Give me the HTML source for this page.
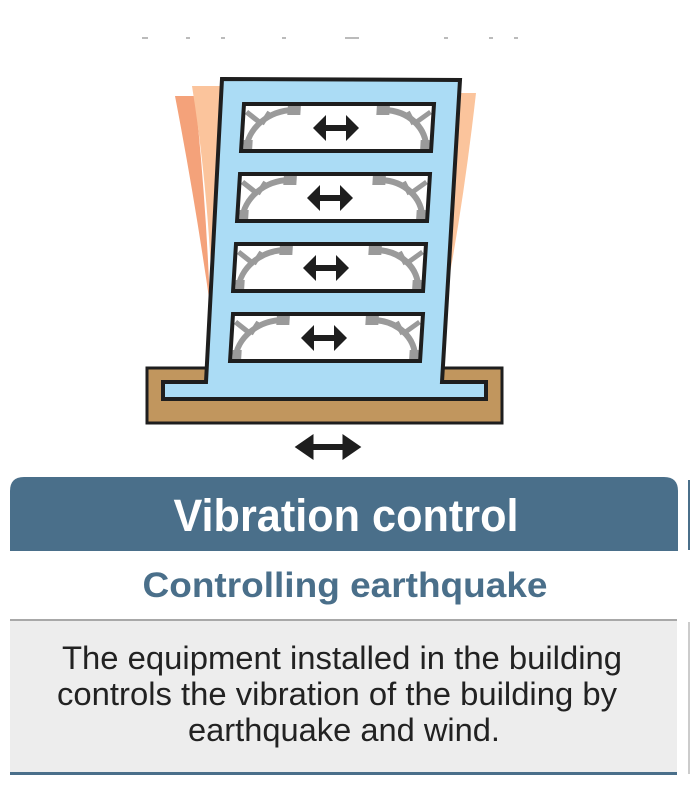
<!DOCTYPE html>
<html><head><meta charset="utf-8"><style>
html,body{margin:0;padding:0;background:#fff;width:690px;height:786px;overflow:hidden}
svg{display:block}
text{font-family:"Liberation Sans",sans-serif}
</style></head><body>
<svg width="690" height="786" viewBox="0 0 690 786" xmlns="http://www.w3.org/2000/svg">
<defs>
<g id="arr">
<polygon points="-23,0 -10,-13 -10,-3 10,-3 10,-13 23,0 10,13 10,3 -10,3 -10,13" fill="#1e1e1e"/>
</g>
<g id="win">
<rect x="0" y="0" width="190" height="47" fill="#fff"/>
<path d="M50,6 A46,40 0 0 0 5,45" fill="none" stroke="#9a9a9a" stroke-width="6"/>
<path d="M140,6 A46,40 0 0 1 185,45" fill="none" stroke="#9a9a9a" stroke-width="6"/>
<rect x="44" y="2" width="13" height="9" fill="#9a9a9a"/>
<rect x="133" y="2" width="13" height="9" fill="#9a9a9a"/>
<rect x="2" y="36" width="9" height="10" fill="#9a9a9a"/>
<rect x="179" y="36" width="9" height="10" fill="#9a9a9a"/>
<path d="M3,8 L19,20 M19,20 L26,8" stroke="#9a9a9a" stroke-width="5" fill="none"/>
<path d="M187,8 L171,20 M171,20 L164,8" stroke="#9a9a9a" stroke-width="5" fill="none"/>
<rect x="0" y="0" width="190" height="47" fill="none" stroke="#1e1e1e" stroke-width="4"/>
</g>
</defs>
<g fill="#bbb">
<rect x="142" y="37" width="6" height="2"/><rect x="186" y="37" width="4" height="2"/><rect x="221" y="37" width="4" height="2"/><rect x="282" y="37" width="4" height="2"/><rect x="345" y="37" width="14" height="2"/><rect x="444" y="37" width="4" height="2"/><rect x="489" y="37" width="4" height="2"/><rect x="514" y="37" width="4" height="2"/>
</g>
<path d="M175,96 L195,96 Q206,200 210,305 Q195,200 175,96 Z" fill="#f4a27a"/>
<path d="M192,86 L222,86 L212,290 Q207,180 192,86 Z" fill="#fbc49c"/>
<path d="M458,93 L476,93 Q464,200 446,295 L452,93 Z" fill="#fbc49c"/>
<rect x="147" y="368" width="355" height="55" fill="#c1965e" stroke="#1e1e1e" stroke-width="3"/>
<path d="M222,79 L460,80 L442,382 L486,382 L486,399 L163,399 L163,382 L206,382 Z" fill="#abdcf5" stroke="#1e1e1e" stroke-width="4"/>
<g transform="translate(244,104) skewX(-3.6)"><use href="#win"/></g>
<g transform="translate(240,174) skewX(-3.6)"><use href="#win"/></g>
<g transform="translate(236,244) skewX(-3.6)"><use href="#win"/></g>
<g transform="translate(233,314) skewX(-3.6)"><use href="#win"/></g>
<use href="#arr" x="336" y="128"/>
<use href="#arr" x="330" y="198"/>
<use href="#arr" x="326" y="268"/>
<use href="#arr" x="324" y="338"/>
<g transform="translate(328,447) scale(1.45,1.0)"><use href="#arr"/></g>
<path d="M10,551 L10,491 Q10,477 24,477 L664,477 Q678,477 678,491 L678,551 Z" fill="#4a6f8a"/>
<rect x="688" y="480" width="2" height="70" fill="#4a6f8a"/>
<text x="346" y="531" font-size="45" font-weight="bold" fill="#fff" text-anchor="middle" textLength="345" lengthAdjust="spacingAndGlyphs">Vibration control</text>
<text x="345" y="597" font-size="35" font-weight="bold" fill="#4a6f8a" text-anchor="middle" textLength="405" lengthAdjust="spacingAndGlyphs">Controlling earthquake</text>
<rect x="10" y="620" width="667" height="153" fill="#ededed"/>
<rect x="10" y="619" width="667" height="2" fill="#a8a8a8"/>
<rect x="10" y="772" width="667" height="3" fill="#4a6f8a"/>
<rect x="688" y="622" width="2" height="152" fill="#cccccc"/>
<g font-size="32" fill="#222" text-anchor="middle">
<text x="342" y="669" textLength="560" lengthAdjust="spacingAndGlyphs">The equipment installed in the building</text>
<text x="337" y="705" textLength="560" lengthAdjust="spacingAndGlyphs">controls the vibration of the building by</text>
<text x="344" y="741" textLength="312" lengthAdjust="spacingAndGlyphs">earthquake and wind.</text>
</g>
</svg>
</body></html>
